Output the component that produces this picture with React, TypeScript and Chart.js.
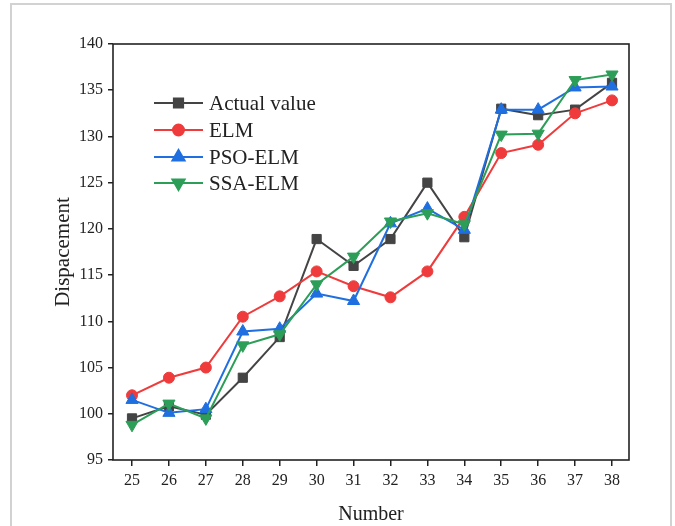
import React, { useEffect, useRef } from "react";
import { Chart, registerables } from "chart.js";
import { drawPoint } from "chart.js/helpers";

Chart.register(...registerables);

const numbers = [25, 26, 27, 28, 29, 30, 31, 32, 33, 34, 35, 36, 37, 38];
const actualValue = [99.5, 100.8, 99.9, 103.9, 108.3, 118.9, 116.0, 118.9, 125.0, 119.1, 133.0, 132.3, 132.9, 135.8];
const elm = [102.0, 103.9, 105.0, 110.5, 112.7, 115.4, 113.8, 112.6, 115.4, 121.3, 128.2, 129.1, 132.5, 133.9];
const psoElm = [101.5, 100.1, 100.5, 108.9, 109.2, 113.0, 112.2, 120.6, 122.2, 119.9, 132.9, 132.9, 135.3, 135.4];
const ssaElm = [98.8, 101.1, 99.5, 107.4, 108.6, 114.0, 117.0, 120.8, 121.7, 120.5, 130.2, 130.3, 136.1, 136.7];
const yTicks = [95, 100, 105, 110, 115, 120, 125, 130, 135, 140];

const SERIF = "'Liberation Serif', 'Times New Roman', serif";
const INK = "#222";

const toPoints = (vals: number[]) => vals.map((y, i) => ({ x: numbers[i], y }));

export default function App() {
  const ref = useRef<HTMLCanvasElement | null>(null);

  useEffect(() => {
    if (!ref.current) return;

    const framePlugin = {
      id: "frame",
      afterDatasetsDraw(chart: any) {
        const { ctx, chartArea } = chart;
        ctx.save();
        ctx.strokeStyle = INK;
        ctx.lineWidth = 1.6;
        ctx.strokeRect(chartArea.left, chartArea.top, chartArea.right - chartArea.left, chartArea.bottom - chartArea.top);
        ctx.restore();
      },
      afterDraw(chart: any) {
        const { ctx } = chart;
        const x0 = 154;
        const x1 = 203;
        const ys = [103, 130, 157, 183];
        ctx.save();
        chart.data.datasets.forEach((ds: any, i: number) => {
          const y = ys[i];
          ctx.strokeStyle = ds.borderColor;
          ctx.lineWidth = ds.borderWidth;
          ctx.beginPath();
          ctx.moveTo(x0, y);
          ctx.lineTo(x1, y);
          ctx.stroke();
          ctx.fillStyle = ds.pointBackgroundColor;
          ctx.strokeStyle = ds.pointBorderColor;
          drawPoint(ctx, {
            pointStyle: ds.pointStyle,
            rotation: ds.pointRotation || 0,
            radius: ds.pointRadius,
            borderWidth: 1,
          } as any, (x0 + x1) / 2, y);
          ctx.fillStyle = INK;
          ctx.font = `21px ${SERIF}`;
          ctx.textBaseline = "middle";
          ctx.textAlign = "left";
          ctx.fillText(ds.label, 209, y + 1);
        });
        ctx.restore();
      },
    };

    const mk = (label: string, vals: number[], color: string, style: string, radius: number, order: number, rot = 0) => ({
      label,
      data: toPoints(vals),
      borderColor: color,
      backgroundColor: color,
      borderWidth: 2,
      pointStyle: style,
      pointRadius: radius,
      pointRotation: rot,
      pointBackgroundColor: color,
      pointBorderColor: color,
      pointBorderWidth: 1,
      tension: 0,
      order,
    });

    const chart = new Chart(ref.current, {
      type: "line",
      data: {
        datasets: [
          mk("Actual value", actualValue, "#444444", "rect", 6.5, 3),
          mk("ELM", elm, "#ef3b3b", "circle", 5.5, 2),
          mk("PSO-ELM", psoElm, "#1f6fe0", "triangle", 7, 1),
          mk("SSA-ELM", ssaElm, "#2c9e58", "triangle", 7, 0, 180),
        ] as any,
      },
      options: {
        animation: false,
        responsive: false,
        maintainAspectRatio: false,
        layout: { padding: { top: 44, right: 46, left: 0, bottom: 0 } },
        plugins: {
          legend: { display: false },
          tooltip: { enabled: false },
        },
        scales: {
          x: {
            type: "linear",
            min: 24.485,
            max: 38.46,
            afterBuildTicks: (scale: any) => {
              scale.ticks = numbers.map((v) => ({ value: v }));
            },
            afterFit: (scale: any) => {
              scale.height = 66;
            },
            grid: {
              drawOnChartArea: false,
              drawTicks: true,
              tickLength: 6,
              color: INK,
              lineWidth: 1.5,
            },
            border: { display: false },
            ticks: {
              color: INK,
              font: { family: SERIF, size: 16 },
              padding: 5,
              maxRotation: 0,
              autoSkip: false,
              callback: (v: any) => String(v),
            },
            title: {
              display: true,
              text: "Number",
              color: INK,
              font: { family: SERIF, size: 20, lineHeight: 1 },
              padding: { top: 0, bottom: 1 },
            },
          },
          y: {
            min: 95,
            max: 140,
            afterBuildTicks: (scale: any) => {
              scale.ticks = yTicks.map((v) => ({ value: v }));
            },
            afterFit: (scale: any) => {
              scale.width = 113;
            },
            grid: {
              drawOnChartArea: false,
              drawTicks: true,
              tickLength: 5,
              color: INK,
              lineWidth: 1.5,
            },
            border: { display: false },
            ticks: {
              color: INK,
              font: { family: SERIF, size: 16 },
              padding: 5,
              autoSkip: false,
              callback: (v: any) => String(v),
            },
            title: {
              display: true,
              text: "Dispacement",
              color: INK,
              font: { family: SERIF, size: 21, lineHeight: 1 },
              padding: { top: 53, bottom: 0 },
            },
          },
        },
      },
      plugins: [framePlugin],
    });

    return () => chart.destroy();
  }, []);

  return (
    <div style={{ position: "fixed", left: 0, top: 0, width: 675, height: 526, overflow: "hidden", background: "#fff" }}>
      <div
        style={{
          position: "absolute",
          left: 10,
          top: 3,
          width: 662,
          height: 600,
          borderTop: "2px solid #d2d2d2",
          borderLeft: "2px solid #d2d2d2",
          borderRight: "2px solid #d2d2d2",
          boxSizing: "border-box",
        }}
      />
      <canvas ref={ref} width={675} height={526} style={{ position: "absolute", left: 0, top: 0, width: 675, height: 526 }} />
    </div>
  );
}
